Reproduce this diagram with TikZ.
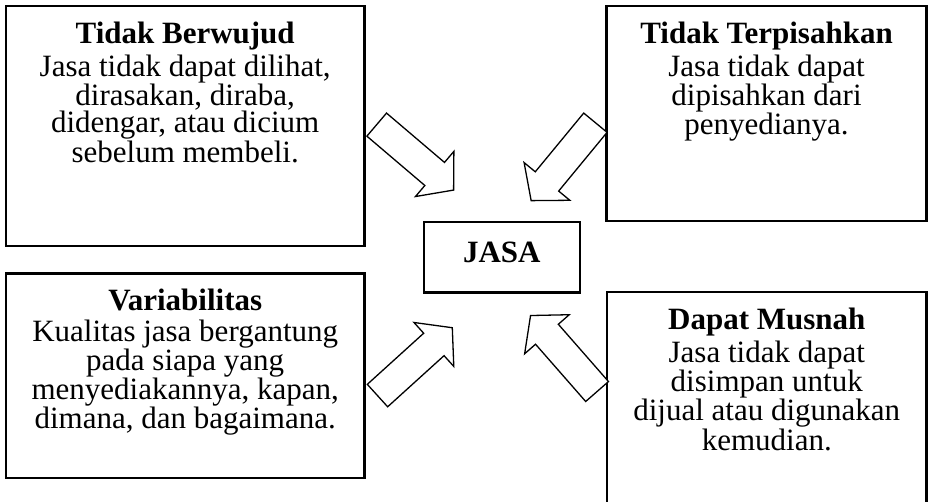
\documentclass[tikz,border=0pt]{standalone}
\usepackage{fontspec}
\setmainfont{Liberation Serif}
\usetikzlibrary{positioning, shapes.arrows, calc}
\setlength{\lineskiplimit}{-30pt}

\tikzset{
  kotak/.style={draw, line width=2.3pt, inner sep=0pt,
    font=\fontsize{31}{27.2}\selectfont},
  panah/.style={single arrow, draw, fill=white, line width=1.3pt,
    inner xsep=0pt, inner ysep=14.5pt,
    minimum height=101pt, single arrow head extend=14.5pt,
    single arrow tip angle=100, anchor=tail},
}

\begin{document}
\begin{tikzpicture}[x=1pt, y=-1pt]
    \useasboundingbox (0,0) rectangle (931,501);

    \node[kotak] (berwujud) at (185.2,126) {\parbox[c][240pt][t]{358.5pt}{\centering
        \vspace*{16pt}\textbf{Tidak Berwujud}\\[4pt]
        Jasa tidak dapat dilihat,\\ dirasakan, diraba,\\
        didengar, atau dicium\\ sebelum membeli.}};
    \node[kotak] (terpisah) at (766.5,113.5) {\parbox[c][215pt][t]{320pt}{\centering
        \vspace*{16pt}\textbf{Tidak Terpisahkan}\\[4pt]
        Jasa tidak dapat\\ dipisahkan dari\\ penyedianya.}};
    \node[kotak, minimum width=155.7pt, minimum height=70.8pt, text depth=10pt]
        (jasa) at (501.8,257.1) {\textbf{JASA}};
    \node[kotak] (variabel) at (185.2,375.7) {\parbox[c][204.3pt][t]{358.5pt}{\centering
        \vspace*{15pt}\textbf{Variabilitas}\\[4pt]
        Kualitas jasa bergantung\\ pada siapa yang\\
        menyediakannya, kapan,\\ dimana, dan bagaimana.}};
    \node[kotak] (musnah) at (766.75,400) {\parbox[c][216pt][t]{319.5pt}{\centering
        \vspace*{16pt}\textbf{Dapat Musnah}\\[4pt]
        Jasa tidak dapat\\ disimpan untuk\\
        dijual atau digunakan\\ kemudian.}};

    % panah menuju JASA
    \node[panah, rotate=-40.4] (p1) at (376.2,124.2) {};
    \node[panah, rotate=-129.5] (p2) at (595.8,122.2) {};
    \node[panah, rotate=42.2] (p3) at (377,396) {};
    \node[panah, rotate=131.2] (p4) at (597.5,392) {};
\end{tikzpicture}
\end{document}
